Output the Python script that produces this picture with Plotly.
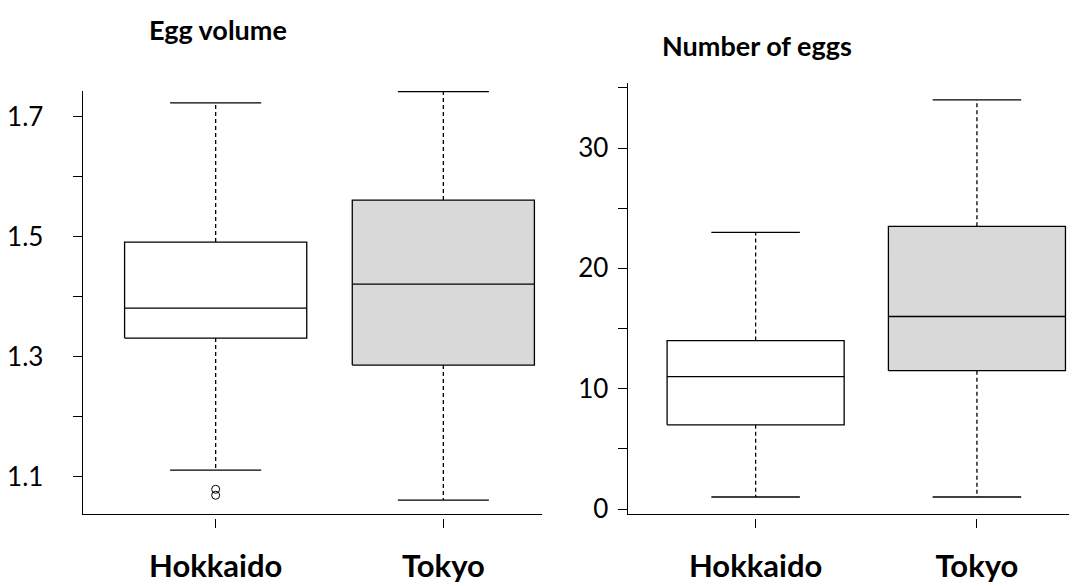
import plotly.graph_objects as go

# ---------------- data ----------------
categories = ["Hokkaido", "Tokyo"]

# Egg volume
vol_lower = [1.111, 1.061]
vol_q1 = [1.331, 1.286]
vol_median = [1.381, 1.421]
vol_q3 = [1.491, 1.561]
vol_upper = [1.723, 1.742]
vol_outliers_hokkaido = [1.069, 1.079]

# Number of eggs
num_lower = [1.0, 1.0]
num_q1 = [7.0, 11.5]
num_median = [11.0, 16.0]
num_q3 = [14.0, 23.5]
num_upper = [23.0, 34.0]

vol_tickvals = [1.1, 1.2, 1.3, 1.4, 1.5, 1.6, 1.7]
vol_ticktext = ["1.1", "", "1.3", "", "1.5", "", "1.7"]
num_tickvals = [0, 5, 10, 15, 20, 25, 30, 35]
num_ticktext = ["0", "", "10", "", "20", "", "30", ""]

titles = ["Egg volume", "Number of eggs"]
fills = ["white", "#d9d9d9"]

# ---------------- style ----------------
W, H = 1078, 586
FONT = "Lato, 'Open Sans', sans-serif"
LW = 1.3
BOX_HALF = 0.4
CAP_HALF = 0.2
positions = list(range(len(categories)))

fig = go.Figure()


def add_boxes(lo, q1, med, q3, hi, xa, ya):
    for i, p in enumerate(positions):
        # whiskers (dashed)
        fig.add_trace(go.Scatter(x=[p, p, None, p, p], y=[q3[i], hi[i], None, q1[i], lo[i]],
                                 mode="lines", line=dict(color="black", width=LW, dash="4px,3px"),
                                 xaxis=xa, yaxis=ya, hoverinfo="skip", showlegend=False))
        # caps
        fig.add_trace(go.Scatter(x=[p - CAP_HALF, p + CAP_HALF, None, p - CAP_HALF, p + CAP_HALF],
                                 y=[hi[i], hi[i], None, lo[i], lo[i]],
                                 mode="lines", line=dict(color="black", width=LW),
                                 xaxis=xa, yaxis=ya, hoverinfo="skip", showlegend=False))
        # box
        fig.add_trace(go.Scatter(x=[p - BOX_HALF, p + BOX_HALF, p + BOX_HALF, p - BOX_HALF, p - BOX_HALF],
                                 y=[q1[i], q1[i], q3[i], q3[i], q1[i]],
                                 mode="lines", fill="toself", fillcolor=fills[i],
                                 line=dict(color="black", width=LW),
                                 xaxis=xa, yaxis=ya, hoverinfo="skip", showlegend=False))
        # median
        fig.add_trace(go.Scatter(x=[p - BOX_HALF, p + BOX_HALF], y=[med[i], med[i]],
                                 mode="lines", line=dict(color="black", width=LW),
                                 xaxis=xa, yaxis=ya, hoverinfo="skip", showlegend=False))


add_boxes(vol_lower, vol_q1, vol_median, vol_q3, vol_upper, "x", "y")
fig.add_trace(go.Scatter(x=[positions[0]] * len(vol_outliers_hokkaido), y=vol_outliers_hokkaido,
                         mode="markers",
                         marker=dict(symbol="circle-open", size=8, color="black", line=dict(width=1)),
                         xaxis="x", yaxis="y", hoverinfo="skip", showlegend=False))
add_boxes(num_lower, num_q1, num_median, num_q3, num_upper, "x2", "y2")

# invisible carriers for the detached category tick axes
fig.add_trace(go.Scatter(x=positions, y=[None] * len(positions), mode="markers",
                         xaxis="x3", yaxis="y", hoverinfo="skip", showlegend=False))
fig.add_trace(go.Scatter(x=positions, y=[None] * len(positions), mode="markers",
                         xaxis="x4", yaxis="y2", hoverinfo="skip", showlegend=False))

bottom_px = 514
tick_top_px = 518
xr1 = [-0.584, 1.432]
xr2 = [-0.578, 1.416]

base_x = dict(showline=True, linecolor="black", linewidth=LW, ticks="", showticklabels=False,
              showgrid=False, zeroline=False, automargin=False)
cat_x = dict(tickmode="array", tickvals=positions, ticktext=categories, ticks="outside",
             ticklen=9, tickwidth=LW, tickcolor="black", showline=False, showgrid=False,
             zeroline=False, anchor="free", position=(H - tick_top_px) / H, automargin=False,
             tickfont=dict(family=FONT, size=31, color="black", weight="bold"),
             ticklabelstandoff=12)
base_y = dict(showline=True, linecolor="black", linewidth=LW, ticks="outside", ticklen=9,
              tickwidth=LW, tickcolor="black", showgrid=False, zeroline=False, automargin=False,
              tickmode="array", tickfont=dict(family=FONT, size=26, color="black"))

fig.update_layout(
    width=W, height=H,
    margin=dict(l=0, r=0, t=0, b=0, autoexpand=False),
    paper_bgcolor="white", plot_bgcolor="white",
    xaxis=dict(base_x, domain=[82.7 / W, 541.7 / W], range=xr1, anchor="y"),
    xaxis2=dict(base_x, domain=[627.7 / W, 1069 / W], range=xr2, anchor="y2"),
    xaxis3=dict(cat_x, overlaying="x", range=xr1),
    xaxis4=dict(cat_x, overlaying="x2", range=xr2),
    yaxis=dict(base_y, domain=[(H - bottom_px) / H, (H - 91) / H], range=[1.0378, 1.7428],
               tickvals=vol_tickvals, ticktext=vol_ticktext, anchor="x", ticklabelstandoff=24),
    yaxis2=dict(base_y, domain=[(H - bottom_px) / H, (H - 83) / H], range=[-0.415, 35.41],
                tickvals=num_tickvals, ticktext=num_ticktext, anchor="x2", ticklabelstandoff=4),
    annotations=[
        dict(text=titles[0], x=218 / W, y=(H - 30) / H, xref="paper", yref="paper",
             xanchor="center", yanchor="middle", showarrow=False,
             font=dict(family=FONT, size=27, color="black", weight="bold")),
        dict(text=titles[1], x=757 / W, y=(H - 45) / H, xref="paper", yref="paper",
             xanchor="center", yanchor="middle", showarrow=False,
             font=dict(family=FONT, size=27, color="black", weight="bold")),
    ],
)

fig.write_html("out.html", config={"displayModeBar": False},
               post_script="document.body.style.margin='0';document.body.style.overflow='hidden';")
